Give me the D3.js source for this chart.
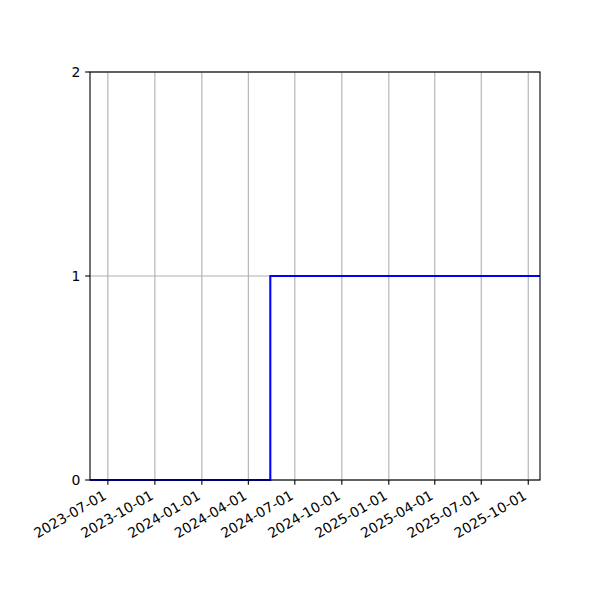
<!DOCTYPE html>
<html><head><meta charset="utf-8">
<script src="https://cdn.jsdelivr.net/npm/d3@7"></script>
<style>body{margin:0;background:#fff}svg{display:block}text{font-family:"DejaVu Sans",sans-serif}</style>
</head><body>
<svg id="c" width="600" height="600"></svg>
<script>
const stepDates = ["2023-05-27", "2024-05-14", "2025-10-24"];
const stepValues = [0, 1, 1];
const xTickLabels = ["2023-07-01","2023-10-01","2024-01-01","2024-04-01","2024-07-01","2024-10-01","2025-01-01","2025-04-01","2025-07-01","2025-10-01"];
const yTickValues = [0, 1, 2];

const parse = d3.utcParse("%Y-%m-%d");
const data = stepDates.map((d, i) => ({date: parse(d), value: stepValues[i]}));
const svg = d3.select("#c");
const L = 90, R = 540, T = 72, B = 480;
const x = d3.scaleUtc().domain([parse(stepDates[0]), parse(stepDates[stepDates.length-1])]).range([L, R]);
const y = d3.scaleLinear().domain([0, 2]).range([B, T]);
const fs = 13.9, tick = 4.86, pad = 4.86;
const gridC = "#b0b0b0";

// grid
svg.append("g").selectAll("line").data(xTickLabels).join("line")
  .attr("x1", d => x(parse(d))).attr("x2", d => x(parse(d)))
  .attr("y1", T).attr("y2", B).attr("stroke", gridC).attr("stroke-width", 1.1);
svg.append("g").selectAll("line").data(yTickValues).join("line")
  .attr("x1", L).attr("x2", R).attr("y1", d => y(d)).attr("y2", d => y(d))
  .attr("stroke", gridC).attr("stroke-width", 1.1);

// line
const line = d3.line().x(d => x(d.date)).y(d => y(d.value)).curve(d3.curveStepAfter);
svg.append("path").datum(data).attr("d", line).attr("fill", "none")
  .attr("stroke", "#0000ff").attr("stroke-width", 2.08);

// spines
svg.append("rect").attr("x", L).attr("y", T).attr("width", R - L).attr("height", B - T)
  .attr("fill", "none").attr("stroke", "#000").attr("stroke-width", 1.1);

// x ticks
const xg = svg.append("g");
xTickLabels.forEach(d => {
  const px = x(parse(d));
  xg.append("line").attr("x1", px).attr("x2", px).attr("y1", B).attr("y2", B + tick)
    .attr("stroke", "#000").attr("stroke-width", 1.1);
  const ax = px - 0.5, ay = B + tick + pad + 8.5;
  xg.append("text").attr("x", ax).attr("y", ay).attr("text-anchor", "end")
    .attr("font-size", fs).attr("transform", `rotate(-30,${ax},${ay})`).text(d);
});

// y ticks
const yg = svg.append("g");
yTickValues.forEach(v => {
  const py = y(v);
  yg.append("line").attr("x1", L - tick).attr("x2", L).attr("y1", py).attr("y2", py)
    .attr("stroke", "#000").attr("stroke-width", 1.1);
  yg.append("text").attr("x", L - tick - pad).attr("y", py).attr("dy", "0.35em")
    .attr("text-anchor", "end").attr("font-size", fs).text(v);
});
</script>
</body></html>
